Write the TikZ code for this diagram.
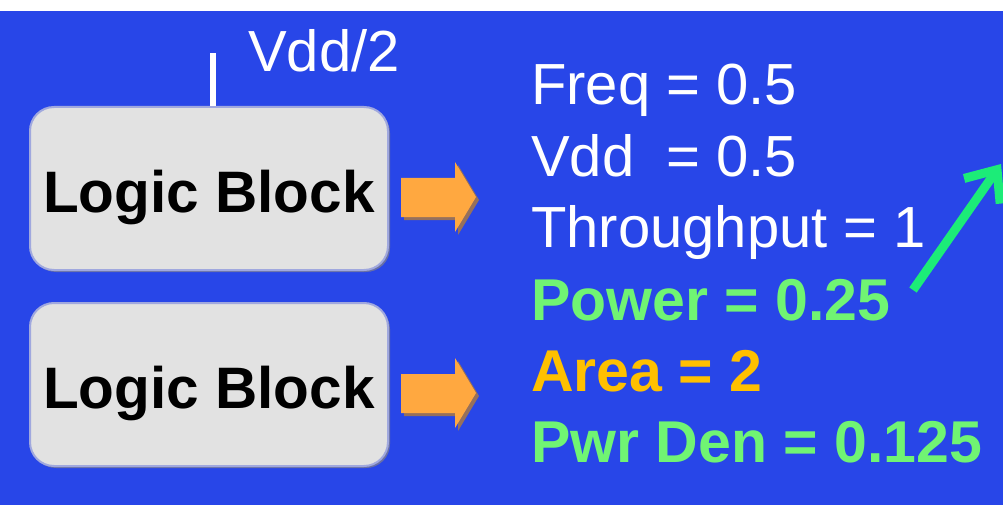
\documentclass[tikz,border=0pt]{standalone}
\usepackage{fontspec}
\setmainfont{Liberation Sans}
\usetikzlibrary{arrows.meta,shadows}
\definecolor{bgblue}{RGB}{40,70,232}
\definecolor{boxfill}{RGB}{226,226,226}
\definecolor{boxedge}{RGB}{160,168,222}
\definecolor{boxshadow}{RGB}{105,112,165}
\definecolor{arrorange}{RGB}{255,168,64}
\definecolor{arrshadow}{RGB}{150,112,92}
\definecolor{txtgreen}{RGB}{112,244,115}
\definecolor{txtorange}{RGB}{255,192,0}
\definecolor{arrgreen}{RGB}{28,236,120}
\begin{document}
\begin{tikzpicture}[x=1pt,y=-1pt,
  logicbox/.style={draw=boxedge, line width=2pt, fill=boxfill, rounded corners=24pt,
    minimum width=358pt, minimum height=163pt, inner sep=0pt,
    text height=47pt, text depth=0pt,
    font=\fontsize{58.5}{70}\selectfont\bfseries,
    drop shadow={shadow xshift=2pt, shadow yshift=-2pt, fill=boxshadow, opacity=1}},
  txt/.style={anchor=base west, inner sep=0pt, text=white, font=\fontsize{58}{70}\selectfont},
  btxt/.style={anchor=base west, inner sep=0pt, font=\fontsize{59}{70}\selectfont\bfseries},
  blockarrow/.style={fill=arrorange},
  blockshadow/.style={fill=arrshadow},
  garrow/.style={draw=arrgreen, line width=9pt, -{Straight Barb[length=26pt,width=44pt]}},
]
\useasboundingbox (0,0) rectangle (1003,505);
\fill[white] (0,0) rectangle (1003,11);
\fill[bgblue] (0,11) rectangle (1003,505);

% logic blocks
\node[logicbox] (box1) at (209,188.5) {Logic Block};
\node[logicbox] (box2) at (209,384.5) {Logic Block};

% Vdd/2 supply line
\coordinate (vddtop) at (213,53);
\draw[white, line width=6pt] (vddtop) -- (vddtop |- box1.north);
\node[txt] (vddh) at (248,72) {Vdd/2};

% block arrows
\foreach \dy in {0,196} {
  \fill[blockshadow, shift={(3,3+\dy)}] (401,178) -- (455,178) -- (455,162) -- (476,197)
     -- (455,232) -- (455,217) -- (401,217) -- cycle;
  \fill[blockarrow, shift={(0,\dy)}] (401,178) -- (455,178) -- (455,162) -- (476,197)
     -- (455,232) -- (455,217) -- (401,217) -- cycle;
}

% results
\node[txt] (freq) at (531,105) {Freq = 0.5};
\node[txt] (vdd) at (531,177) {Vdd~ = 0.5};
\node[txt] (thr) at (531,247) {Throughput = 1};
\node[btxt, text=txtgreen] (pow) at (531,320) {Power = 0.25};
\node[btxt, text=txtorange] (area) at (531,391) {Area = 2};
\node[btxt, text=txtgreen] (pden) at (531,462) {Pwr Den = 0.125};

% green arrow
\coordinate (ga0) at (913,290);
\coordinate (ga1) at (1001,164);
\draw[garrow] (ga0) -- (ga1);
\end{tikzpicture}
\end{document}
